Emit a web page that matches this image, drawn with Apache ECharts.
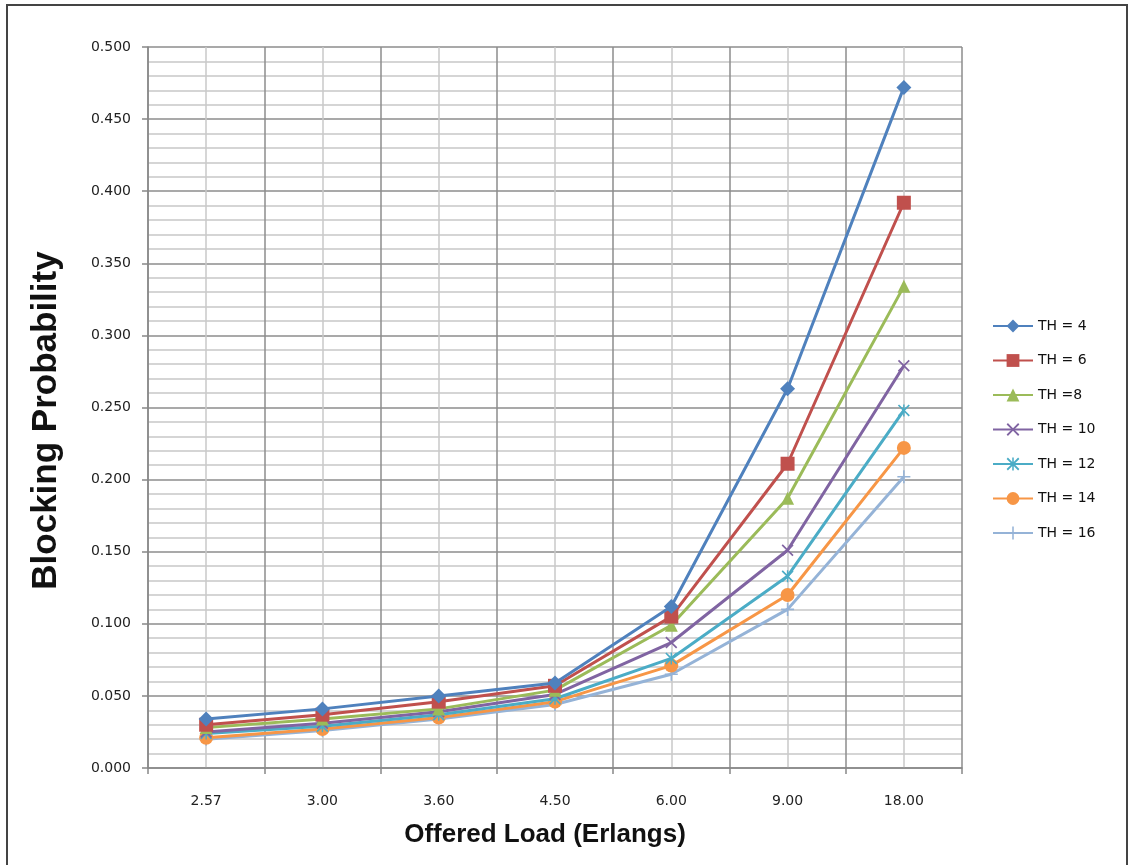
<!DOCTYPE html>
<html>
<head>
<meta charset="utf-8">
<script src="https://cdn.jsdelivr.net/npm/echarts@6/dist/echarts.min.js"></script>
<style>
  html, body { margin: 0; padding: 0; background: #fff; }
  #main { width: 1129px; height: 865px; }
</style>
</head>
<body>
<div id="main"></div>
<script>
// offered load categories
var loads = ['2.57', '3.00', '3.60', '4.50', '6.00', '9.00', '18.00'];

// blocking probability per threshold
var th4  = [0.034, 0.041, 0.050, 0.059, 0.112, 0.263, 0.472];
var th6  = [0.030, 0.037, 0.046, 0.057, 0.105, 0.211, 0.392];
var th8  = [0.028, 0.034, 0.041, 0.054, 0.099, 0.187, 0.334];
var th10 = [0.025, 0.031, 0.039, 0.051, 0.087, 0.151, 0.279];
var th12 = [0.024, 0.029, 0.037, 0.048, 0.076, 0.133, 0.248];
var th14 = [0.021, 0.027, 0.035, 0.046, 0.071, 0.120, 0.222];
var th16 = [0.020, 0.026, 0.034, 0.044, 0.065, 0.110, 0.202];

var names  = ['TH = 4', 'TH = 6', 'TH =8', 'TH = 10', 'TH = 12', 'TH = 14', 'TH = 16'];
var values = [th4, th6, th8, th10, th12, th14, th16];
var colors = ['#4F81BD', '#C0504D', '#9BBB59', '#8064A2', '#4BACC6', '#F79646', '#95B3D7'];

var xMark = 'path://M0,1L1,0L5,4L9,0L10,1L6,5L10,9L9,10L5,6L1,10L0,9L4,5Z';
var plusMark = 'path://M4.4,0H5.6V4.4H10V5.6H5.6V10H4.4V5.6H0V4.4H4.4Z';
var starMark = 'path://M0,1L1,0L5,4L9,0L10,1L6,5L10,9L9,10L5,6L1,10L0,9L4,5Z M4.4,0H5.6V10H4.4Z';
var symbols = ['diamond', 'rect', 'triangle', xMark, starMark, 'circle', plusMark];
var sizes   = [15, 14, 13, 12, 12, 14, 13];

var series = values.map(function (d, i) {
  return {
    name: names[i],
    type: 'line',
    data: d,
    xAxisIndex: 0,
    symbol: symbols[i],
    symbolSize: sizes[i],
    showAllSymbol: true,
    lineStyle: { color: colors[i], width: 3 },
    itemStyle: { color: colors[i] },
    emphasis: { disabled: true },
    z: 10 - i
  };
});

var chart = echarts.init(document.getElementById('main'));
chart.setOption({
  animation: false,
  backgroundColor: '#fff',
  textStyle: { fontFamily: 'DejaVu Sans' },
  graphic: [{
    type: 'rect',
    shape: { x: 7, y: 5, width: 1120, height: 880 },
    style: { fill: 'none', stroke: '#444', lineWidth: 2 },
    silent: true
  }],
  grid: { left: 148, right: 167, top: 47, bottom: 97 },
  legend: {
    orient: 'vertical',
    left: 987,
    top: 314,
    itemWidth: 40,
    itemHeight: 16,
    itemGap: 20.5,
    textStyle: { fontSize: 14, color: '#111', fontFamily: 'DejaVu Sans' },
    data: names
  },
  xAxis: [{
    type: 'category',
    data: loads,
    boundaryGap: true,
    name: 'Offered Load (Erlangs)',
    nameLocation: 'middle',
    nameGap: 54,
    nameTextStyle: {
      fontSize: 26, fontWeight: 'bold', color: '#111',
      fontFamily: 'Liberation Sans', padding: [0, 20, 0, 0]
    },
    axisLine: { lineStyle: { color: '#888', width: 1.5 } },
    axisTick: { show: true, length: 6, lineStyle: { color: '#888', width: 1.5 } },
    axisLabel: { fontSize: 14, color: '#222', margin: 26 },
    splitLine: { show: false }
  }, {
    type: 'value',
    position: 'bottom',
    min: 0,
    max: 14,
    interval: 1,
    axisLine: { show: false },
    axisTick: { show: false },
    axisLabel: { show: false },
    splitLine: { show: true, lineStyle: { color: ['#8c8c8c', '#c8c8c8'], width: 1.5 } }
  }],
  yAxis: {
    type: 'value',
    min: 0,
    max: 0.5,
    interval: 0.05,
    name: 'Blocking Probability',
    nameLocation: 'middle',
    nameGap: 84,
    nameTextStyle: {
      fontSize: 35, fontWeight: 'bold', color: '#111', fontFamily: 'Liberation Sans',
      padding: [0, 26, 0, 0]
    },
    axisLine: { show: true, lineStyle: { color: '#888', width: 1.5 } },
    axisTick: { show: true, length: 6, lineStyle: { color: '#888', width: 1.5 } },
    axisLabel: {
      fontSize: 14, color: '#222', margin: 17,
      formatter: function (v) { return v.toFixed(3); }
    },
    splitLine: { show: true, lineStyle: { color: '#8c8c8c', width: 1.5 } },
    minorTick: { show: false, splitNumber: 5 },
    minorSplitLine: { show: true, lineStyle: { color: '#c8c8c8', width: 1.5 } }
  },
  series: series
});
</script>
</body>
</html>
